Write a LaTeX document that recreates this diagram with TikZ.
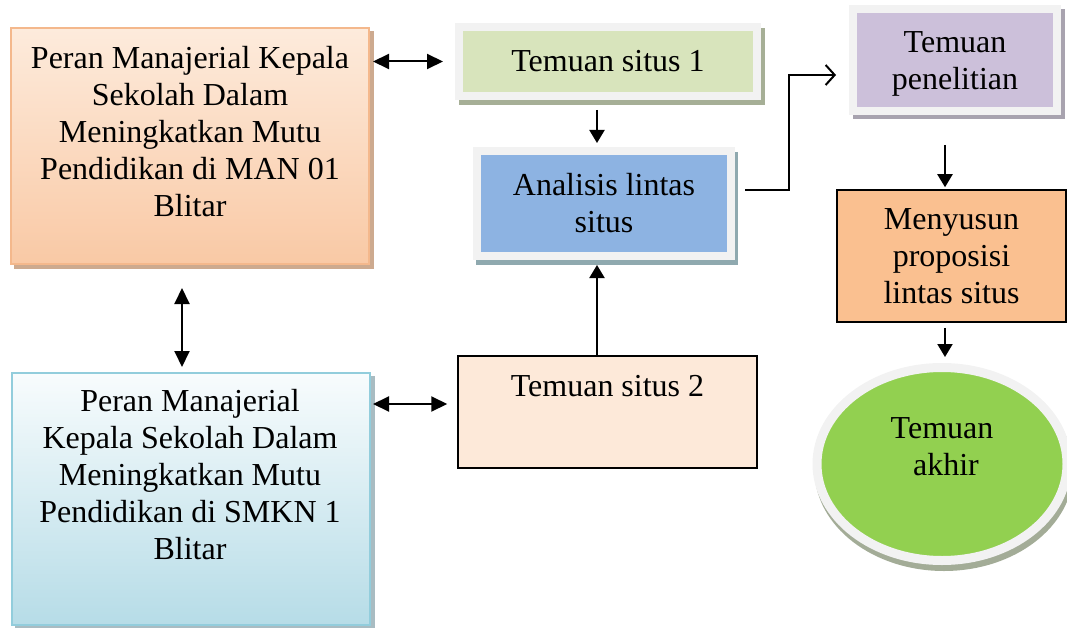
\documentclass[tikz,border=0pt]{standalone}
\usepackage{fontspec}
\setmainfont{Liberation Serif}
\usetikzlibrary{arrows.meta,shapes.geometric}

\definecolor{frame}{HTML}{F2F2F2}
\definecolor{mantop}{HTML}{FDEBDC}
\definecolor{manbot}{HTML}{F9C9A5}
\definecolor{manline}{HTML}{F4B88C}
\definecolor{manshade}{HTML}{CDAA8F}
\definecolor{smktop}{HTML}{F8FCFD}
\definecolor{smkbot}{HTML}{B6DCE7}
\definecolor{smkline}{HTML}{92CDDC}
\definecolor{smkshade}{HTML}{A9BCC2}
\definecolor{situsA}{HTML}{D8E4BC}
\definecolor{situsAshade}{HTML}{A6AF96}
\definecolor{lintas}{HTML}{8DB3E2}
\definecolor{lintasshade}{HTML}{8FA9AF}
\definecolor{teliti}{HTML}{CCC0DA}
\definecolor{telitishade}{HTML}{A8A3AF}
\definecolor{susun}{HTML}{FAC090}
\definecolor{situsB}{HTML}{FDE9D9}
\definecolor{akhirfill}{HTML}{92D050}
\definecolor{akhirshade}{HTML}{A3AC97}

\begin{document}
\begin{tikzpicture}[x=1pt, y=-1pt,
		font=\fontsize{32}{37}\selectfont,
		txt/.style={align=center, inner sep=0pt},
		shadowed/.style 2 args={preaction={draw=#1, fill=#1, transform canvas={shift={#2}}}},
		framed/.style={draw=frame, line width=8pt, align=center, inner sep=0pt},
		flat/.style={draw, line width=1.5pt, align=center, inner sep=0pt},
		link/.style={line width=2pt, -{Triangle[length=13pt,width=15pt]}},
		twoway/.style={line width=2pt, {Triangle[length=16pt,width=15pt]}-{Triangle[length=16pt,width=15pt]}}]
	\useasboundingbox (0, 0) rectangle (1067, 628);

	% left column
	\draw (190, 146)	node[draw=manline, line width=2pt, top color=mantop, bottom color=manbot, shadowed={manshade}{(4pt,-4pt)}, minimum width=358pt, minimum height=236pt] 	(man) 	{};
	\draw (190, 131.5)	node[txt] 	(man-txt) 	{Peran Manajerial Kepala\\Sekolah Dalam\\Meningkatkan Mutu\\Pendidikan di MAN 01\\Blitar};
	\draw (191, 499)	node[draw=smkline, line width=2pt, top color=smktop, bottom color=smkbot, shadowed={smkshade}{(4pt,-4pt)}, minimum width=358pt, minimum height=252pt] 	(smk) 	{};
	\draw (190, 475)	node[txt] 	(smk-txt) 	{Peran Manajerial\\Kepala Sekolah Dalam\\Meningkatkan Mutu\\Pendidikan di SMKN 1\\Blitar};

	% middle column
	\draw (608, 61.5)	node[framed, fill=situsA, shadowed={situsAshade}{(4pt,-5pt)}, minimum width=298pt, minimum height=69pt] 	(situs1) 	{Temuan situs 1};
	\draw (604, 203.5)	node[framed, fill=lintas, shadowed={lintasshade}{(3pt,-5pt)}, minimum width=254pt, minimum height=105pt] 	(analisis) 	{Analisis lintas\\situs};
	\draw (607.5, 412)	node[flat, fill=situsB, minimum width=299pt, minimum height=112pt] 	(situs2) 	{};
	\draw (607.5, 386)	node[txt] 	(situs2-txt) 	{Temuan situs 2};

	% right column
	\draw (955, 60)	node[framed, fill=teliti, shadowed={telitishade}{(4pt,-4pt)}, minimum width=204pt, minimum height=102pt] 	(penelitian) 	{};
	\draw (955, 64)	node[txt] 	(penelitian-txt) 	{Temuan\\penelitian};
	\draw (951.5, 256)	node[flat, fill=susun, minimum width=229pt, minimum height=132pt] 	(menyusun) 	{Menyusun\\proposisi\\lintas situs};
	\draw (942, 464)	node[framed, ellipse, line width=9pt, fill=akhirfill, shadowed={akhirshade}{(2pt,-6pt)}, minimum width=250pt, minimum height=193pt] 	(akhir) 	{};
	\draw (942, 446.5)	node[txt] 	(akhir-txt) 	{Temuan\\\hspace*{8pt}akhir};

	\coordinate (s2in) at ([yshift=8pt]situs2.west);

	\draw[twoway, shorten <=3pt, shorten >=12pt] (man.east |- situs1.west) -- (situs1.west);
	\draw[twoway, shorten <=23pt, shorten >=5pt] ([xshift=-8pt]man.south) -- ([xshift=-9pt]smk.north);
	\draw[twoway, shorten <=2pt, shorten >=10pt] (smk.east |- s2in) -- (s2in);
	\draw[link, shorten <=10pt, shorten >=4pt] ([xshift=-11pt]situs1.south) -- ([xshift=-7pt]analisis.north);
	\draw[link, shorten >=5pt] ([xshift=-10.5pt]situs2.north) -- ([xshift=-7pt]analisis.south);
	\draw[line width=2pt, -{Straight Barb[length=9pt,width=20pt]}, shorten <=10pt, shorten >=13pt] ([yshift=13.5pt]analisis.east) -- ++(53.5, 0) |- ([yshift=-15pt]penelitian.west);
	\draw[link, shorten <=30pt, shorten >=2pt] ([xshift=-10pt]penelitian.south) -- ([xshift=-6.5pt]menyusun.north);
	\draw[link, shorten <=5pt, shorten >=6pt] ([xshift=-6.5pt]menyusun.south) -- ([xshift=3pt]akhir.north);
\end{tikzpicture}
\end{document}
